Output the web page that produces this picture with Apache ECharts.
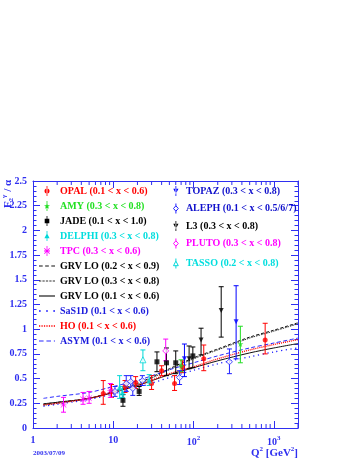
<!DOCTYPE html>
<html>
<head>
<meta charset="utf-8">
<script src="https://cdn.jsdelivr.net/npm/echarts@6/dist/echarts.min.js"></script>
<style>
  html, body { margin: 0; padding: 0; background: #fff; }
  #chart { width: 358px; height: 463px; }
</style>
</head>
<body>
<div id="chart"></div>
<script>
// each point: [Q2, F2/alpha, low end of error bar, high end of error bar]
var opal = [[7.5, 0.35, 0.24, 0.48], [9.5, 0.37, 0.31, 0.44], [14, 0.42, 0.36, 0.48], [19, 0.46, 0.40, 0.52],
  [30, 0.45, 0.39, 0.53], [40, 0.58, 0.53, 0.63], [58, 0.45, 0.38, 0.53], [73, 0.62, 0.56, 0.68],
  [134, 0.70, 0.58, 0.84], [780, 0.89, 0.75, 1.06]];
var amy = [[70, 0.63, 0.57, 0.69], [383, 0.85, 0.66, 1.03]];
var jade = [[13.2, 0.28, 0.22, 0.34], [21, 0.37, 0.33, 0.42], [35, 0.67, 0.57, 0.77], [46, 0.66, 0.53, 0.81],
  [60, 0.66, 0.55, 0.78], [98, 0.73, 0.61, 0.82]];
var delphi = [[12, 0.41, 0.30, 0.53], [13, 0.36, 0.31, 0.42], [28, 0.48, 0.43, 0.54]];
var tpc = [[2.4, 0.235, 0.16, 0.31], [4.2, 0.29, 0.24, 0.36], [5.0, 0.30, 0.25, 0.37], [9.2, 0.38, 0.31, 0.45]];
var topaz = [[77, 0.70, 0.52, 0.85], [339, 1.075, 0.70, 1.44]];
var aleph = [[10.5, 0.37, 0.32, 0.42], [14.5, 0.45, 0.37, 0.53], [16.5, 0.47, 0.41, 0.53], [17.5, 0.40, 0.33, 0.47],
  [23, 0.48, 0.43, 0.53], [67, 0.51, 0.44, 0.58], [280, 0.67, 0.55, 0.80]];
var l3 = [[88, 0.70, 0.60, 0.83], [124, 0.89, 0.74, 1.01], [221, 1.19, 0.92, 1.43]];
var pluto = [[45, 0.78, 0.68, 0.90]];
var tasso = [[23.4, 0.69, 0.58, 0.79]];

// theory curves, read at these Q2 values
var q2Grid = [1.35, 2, 5, 10, 20, 50, 100, 200, 500, 1000, 2000];
var grv0209 = [0.24, 0.26, 0.30, 0.37, 0.45, 0.60, 0.71, 0.80, 0.92, 0.99, 1.065];
var grv0308 = [0.23, 0.25, 0.30, 0.36, 0.44, 0.59, 0.70, 0.79, 0.91, 0.98, 1.055];
var grv0106 = [0.245, 0.26, 0.30, 0.36, 0.43, 0.54, 0.61, 0.68, 0.76, 0.81, 0.855];
var sas1d = [0.22, 0.24, 0.29, 0.345, 0.41, 0.51, 0.585, 0.65, 0.72, 0.77, 0.81];
var ho = [0.235, 0.25, 0.30, 0.36, 0.43, 0.55, 0.62, 0.70, 0.79, 0.845, 0.895];
var asym = [0.30, 0.32, 0.36, 0.42, 0.48, 0.59, 0.66, 0.73, 0.81, 0.86, 0.91];

var xTickLabels = { 1: '1', 10: '10', 100: '10{s|2}', 1000: '10{s|3}' };
var xMinorTicks = [2, 3, 4, 5, 6, 7, 8, 9, 20, 30, 40, 50, 60, 70, 80, 90,
  200, 300, 400, 500, 600, 700, 800, 900, 2000];

var AXIS = '#2f2ff0';
var FONT = '"Liberation Serif", "Times New Roman", serif';

var ICON = {
  circle: 'path://M4.6,0h0.8v10h-0.8z M2.5,5a2.5,2.5 0 1,0 5,0a2.5,2.5 0 1,0 -5,0z',
  star: 'path://M4.6,0h0.8v10h-0.8z M5,2L5.8,4.2L8,4.2L6.2,5.6L6.9,7.8L5,6.4L3.1,7.8L3.8,5.6L2,4.2L4.2,4.2Z',
  square: 'path://M4.6,0h0.8v10h-0.8z M2.7,2.7h4.6v4.6h-4.6z',
  triUp: 'path://M4.6,0h0.8v10h-0.8z M5,2.3L7.6,7.2H2.4Z',
  triDown: 'path://M4.6,0h0.8v10h-0.8z M5,7.7L7.6,2.8H2.4Z',
  asterisk: 'path://M4.6,0h0.8v10h-0.8z M2,4.6h6v0.8h-6z M2.6,2L8,7.4L7.4,8L2,2.6Z M7.4,2L8,2.6L2.6,8L2,7.4Z',
  openDiamond: 'path://M5,0V2.3 M5,7.7V10 M5,2.3L7.4,5L5,7.7L2.6,5Z',
  openTri: 'path://M5,0V2.6 M5,7.2V10 M5,2.6L7.4,7.2H2.6Z',
  dashed: 'path://M0,0h3v1h-3z M5,0h3v1h-3z M10,0h3v1h-3z',
  fineDash: 'path://M0,0h2v1h-2z M3,0h2v1h-2z M6,0h2v1h-2z M9,0h2v1h-2z M12,0h2v1h-2z',
  solid: 'path://M0,0h14v1h-14z',
  dots: 'path://M0,0h1.2v1.2h-1.2z M5,0h1.2v1.2h-1.2z M10,0h1.2v1.2h-1.2z',
  denseDots: 'path://M0,0h1v1.4h-1z M2,0h1v1.4h-1z M4,0h1v1.4h-1z M6,0h1v1.4h-1z M8,0h1v1.4h-1z M10,0h1v1.4h-1z M12,0h1v1.4h-1z',
  wideDash: 'path://M0,0h4v1h-4z M6.5,0h4v1h-4z M13,0h1v1h-1z'
};

var STAR = 'path://M5,0L6.2,3.6L10,3.6L6.9,5.9L8.1,9.5L5,7.3L1.9,9.5L3.1,5.9L0,3.6L3.8,3.6Z';
var AST = 'path://M4.4,0h1.2v10h-1.2z M0,4.4h10v1.2h-10z M0.8,0L10,9.2L9.2,10L0,0.8Z M9.2,0L10,0.8L0.8,10L0,9.2Z';

var experiments = [
  { name: 'OPAL (0.1 < x < 0.6)', data: opal, color: '#ff0000', text: '#ff0000', symbol: 'circle', size: 5, icon: ICON.circle },
  { name: 'AMY (0.3 < x < 0.8)', data: amy, color: '#22dd22', text: '#22e022', symbol: STAR, size: 6, icon: ICON.star },
  { name: 'JADE (0.1 < x < 1.0)', data: jade, color: '#000000', text: '#000000', symbol: 'rect', size: 5, icon: ICON.square },
  { name: 'DELPHI (0.3 < x < 0.8)', data: delphi, color: '#00d8d8', text: '#00dede', symbol: 'triangle', size: 6, icon: ICON.triUp },
  { name: 'TPC (0.3 < x < 0.6)', data: tpc, color: '#ff00ff', text: '#ff00ff', symbol: AST, size: 6, icon: ICON.asterisk },
  { name: 'TOPAZ (0.3 < x < 0.8)', data: topaz, color: '#0000ff', text: '#1010cc', symbol: 'triangle', rotate: 180, size: 5, icon: ICON.triDown },
  { name: 'ALEPH (0.1 < x < 0.5/6/7)', data: aleph, color: '#2020ff', text: '#1010cc', symbol: 'diamond', size: 6, open: true, icon: ICON.openDiamond },
  { name: 'L3 (0.3 < x < 0.8)', data: l3, color: '#000000', text: '#000000', symbol: 'triangle', rotate: 180, size: 5, icon: ICON.triDown },
  { name: 'PLUTO (0.3 < x < 0.8)', data: pluto, color: '#ff00ff', text: '#ff00ff', symbol: 'diamond', size: 6, open: true, icon: ICON.openDiamond },
  { name: 'TASSO (0.2 < x < 0.8)', data: tasso, color: '#00d8d8', text: '#00dede', symbol: 'triangle', size: 6, open: true, icon: ICON.openTri }
];

var curves = [
  { name: 'GRV LO (0.2 < x < 0.9)', values: grv0209, color: '#111', text: '#000', dash: [3, 2], width: 1, icon: ICON.dashed },
  { name: 'GRV LO (0.3 < x < 0.8)', values: grv0308, color: '#333', text: '#000', dash: [1.5, 1], width: 1, icon: ICON.fineDash },
  { name: 'GRV LO (0.1 < x < 0.6)', values: grv0106, color: '#111', text: '#000', dash: 'solid', width: 1, icon: ICON.solid },
  { name: 'SaS1D (0.1 < x < 0.6)', values: sas1d, color: '#1a1aff', text: '#1a1add', dash: [1.2, 3.5], width: 1.3, icon: ICON.dots },
  { name: 'HO (0.1 < x < 0.6)', values: ho, color: '#ff0000', text: '#ff0000', dash: [1, 1], width: 1.4, icon: ICON.denseDots },
  { name: 'ASYM (0.1 < x < 0.6)', values: asym, color: '#2a2aff', text: '#1a1add', dash: [4, 2.5], width: 1, icon: ICON.wideDash }
];

function renderErr(params, api) {
  var q = api.value(0);
  var top = api.coord([q, api.value(3)]);
  var bot = api.coord([q, api.value(2)]);
  var c = api.visual('color');
  var w = 2.5;
  var st = { stroke: c, lineWidth: 1 };
  return {
    type: 'group',
    children: [
      { type: 'line', shape: { x1: top[0], y1: top[1], x2: bot[0], y2: bot[1] }, style: st },
      { type: 'line', shape: { x1: top[0] - w, y1: top[1], x2: top[0] + w, y2: top[1] }, style: st },
      { type: 'line', shape: { x1: bot[0] - w, y1: bot[1], x2: bot[0] + w, y2: bot[1] }, style: st }
    ]
  };
}

function renderMinor(params, api) {
  var p = api.coord([api.value(0), 1]);
  var cs = params.coordSys;
  var st = { stroke: AXIS, lineWidth: 1 };
  return {
    type: 'group',
    children: [
      { type: 'line', shape: { x1: p[0], y1: cs.y + cs.height, x2: p[0], y2: cs.y + cs.height - 4 }, style: st },
      { type: 'line', shape: { x1: p[0], y1: cs.y, x2: p[0], y2: cs.y + 4 }, style: st }
    ]
  };
}

var series = [];
curves.forEach(function (c) {
  series.push({
    name: c.name, type: 'line', smooth: 0.3, symbol: 'none', z: 2, silent: true,
    data: q2Grid.map(function (q, i) { return [q, c.values[i]]; }),
    itemStyle: { color: c.color },
    lineStyle: { color: c.color, width: c.width, type: c.dash }
  });
});
experiments.forEach(function (e) {
  series.push({
    name: e.name, type: 'custom', renderItem: renderErr, z: 3, silent: true,
    encode: { x: 0, y: [2, 3] },
    itemStyle: { color: e.color },
    data: e.data
  });
  series.push({
    name: e.name, type: 'scatter', z: 4, silent: true,
    symbol: e.symbol, symbolSize: e.size, symbolRotate: e.rotate || 0,
    itemStyle: e.open
      ? { color: '#ffffff', borderColor: e.color, borderWidth: 1 }
      : { color: e.color },
    data: e.data.map(function (d) { return [d[0], d[1]]; })
  });
});
series.push({
  type: 'custom', renderItem: renderMinor, silent: true, z: 5,
  encode: { x: 0, y: 1 },
  data: xMinorTicks.map(function (v) { return [v, 1]; })
});

function legendItem(o) {
  var style = o.open
    ? { color: 'none', borderColor: o.color, borderWidth: 1 }
    : { color: o.color, borderWidth: 0 };
  return { name: o.name, icon: o.icon, itemStyle: style, textStyle: { color: o.text } };
}

var leftItems = experiments.slice(0, 5).concat(curves);
var rightItems = experiments.slice(5);

var legendText = { fontFamily: FONT, fontWeight: 'bold', fontSize: 10, lineHeight: 10 };

var chart = echarts.init(document.getElementById('chart'));
chart.setOption({
  animation: false,
  backgroundColor: '#ffffff',
  grid: { left: 33, right: 60, top: 181, bottom: 35 },
  legend: [
    {
      orient: 'vertical', left: 34, top: 181, itemWidth: 16, itemHeight: 10, itemGap: 5,
      selectedMode: false, symbolKeepAspect: true, textStyle: legendText,
      data: leftItems.map(legendItem)
    },
    {
      orient: 'vertical', left: 166, top: 181, itemWidth: 10, itemHeight: 10, itemGap: 5,
      selectedMode: false, symbolKeepAspect: true, textStyle: legendText,
      data: rightItems.map(legendItem)
    }
  ],
  xAxis: [
    {
      type: 'log', logBase: 10, min: 1, max: 2000, position: 'bottom',
      axisLine: { onZero: false, lineStyle: { color: AXIS, width: 1 } },
      axisTick: { inside: true, length: 7, lineStyle: { color: AXIS } },
      splitLine: { show: false },
      axisLabel: {
        margin: 7, color: AXIS, fontFamily: FONT, fontWeight: 'bold', fontSize: 10,
        formatter: function (v) { return xTickLabels[Math.round(v)] || ''; },
        rich: { s: { fontFamily: FONT, fontWeight: 'bold', fontSize: 7, color: AXIS, padding: [0, 0, 8, 0] } }
      }
    },
    {
      type: 'log', logBase: 10, min: 1, max: 2000, position: 'top',
      axisLine: { onZero: false, lineStyle: { color: AXIS, width: 1 } },
      axisTick: { inside: true, length: 7, lineStyle: { color: AXIS } },
      axisLabel: { show: false },
      splitLine: { show: false }
    }
  ],
  yAxis: [
    {
      type: 'value', min: 0, max: 2.5, interval: 0.25, position: 'left',
      axisLine: { show: true, onZero: false, lineStyle: { color: AXIS, width: 1 } },
      axisTick: { show: true, inside: true, length: 7, lineStyle: { color: AXIS } },
      minorTick: { show: true, splitNumber: 5, length: 3.5, lineStyle: { color: AXIS } },
      splitLine: { show: false },
      axisLabel: { margin: 6, color: AXIS, fontFamily: FONT, fontWeight: 'bold', fontSize: 10 }
    },
    {
      type: 'value', min: 0, max: 2.5, interval: 0.25, position: 'right',
      axisLine: { show: true, onZero: false, lineStyle: { color: AXIS, width: 1 } },
      axisTick: { show: true, inside: true, length: 7, lineStyle: { color: AXIS } },
      minorTick: { show: true, splitNumber: 5, length: 3.5, lineStyle: { color: AXIS } },
      splitLine: { show: false },
      axisLabel: { show: false }
    }
  ],
  graphic: [
    {
      type: 'text', x: 8, y: 194, rotation: Math.PI / 2,
      style: {
        text: 'F{b|2}{p|γ} / α', align: 'center', verticalAlign: 'middle',
        font: 'bold 11px ' + FONT, fill: AXIS,
        rich: {
          b: { fontFamily: FONT, fontWeight: 'bold', fontSize: 7, fill: AXIS, padding: [6, 0, 0, 0] },
          p: { fontFamily: FONT, fontWeight: 'bold', fontSize: 7, fill: AXIS, padding: [0, 0, 7, 0] }
        }
      }
    },
    {
      type: 'text', x: 33, y: 453,
      style: { text: '2003/07/09', align: 'left', verticalAlign: 'middle', font: 'bold 7px ' + FONT, fill: AXIS }
    },
    {
      type: 'text', x: 298, y: 453,
      style: {
        text: 'Q{s|2} [GeV{s|2}]', align: 'right', verticalAlign: 'middle',
        font: 'bold 11px ' + FONT, fill: AXIS,
        rich: { s: { fontFamily: FONT, fontWeight: 'bold', fontSize: 7, fill: AXIS, padding: [0, 0, 8, 0] } }
      }
    }
  ],
  series: series
});
</script>
</body>
</html>
